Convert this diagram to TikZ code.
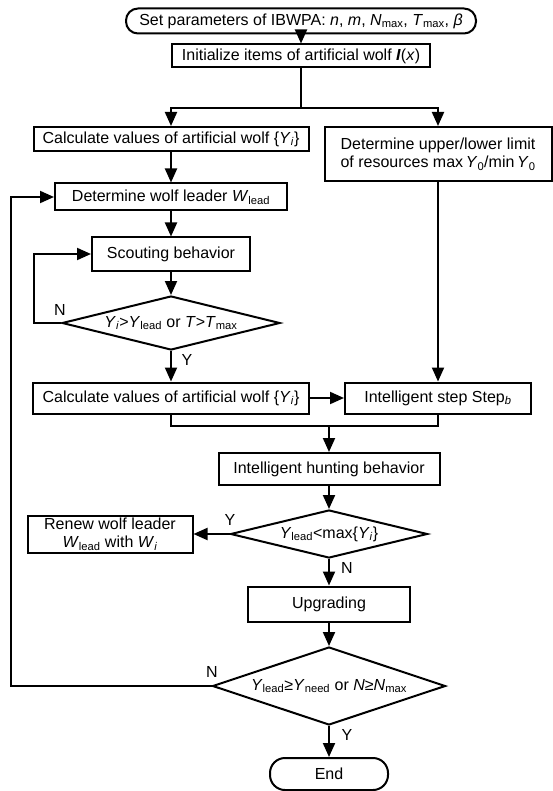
\documentclass[tikz,border=0pt]{standalone}
\usepackage{fontspec}
\setmainfont{Liberation Sans}
\usetikzlibrary{
    arrows.meta,
    shapes.geometric
}
\tikzset{
  every path/.style={
    black,
    line width=2pt
  },
  every node/.style={
    font=\fontsize{16}{18}\selectfont,
    inner sep=0pt
  },
  box/.style={draw, rectangle, align=center},
  term/.style={draw, rectangle, rounded corners=12pt},
  cond/.style={draw, diamond, aspect=4}
}

\begin{document}
\begin{tikzpicture}[x=1pt,y=-1pt,>={Triangle[length=14pt,width=12pt]}]

    \useasboundingbox (0,0) rectangle (552,791);

    % 開始と初期化
    \node[term, minimum width=350pt, minimum height=25pt] (start) at (301,21)
        {Set parameters of IBWPA: \textit{n}, \textit{m}, \textit{N}\textsubscript{max}, \textit{T}\textsubscript{max}, \textit{β}};
    \node[box, minimum width=258pt, minimum height=23pt] (init) at (301,56)
        {Initialize items of artificial wolf \textbf{\textit{I}}(\textit{x})};

    % 左右の列
    \node[box, minimum width=275pt, minimum height=24pt] (calc1) at (171,139)
        {Calculate values of artificial wolf \{\textit{Y}\textsubscript{\textit{i}}\}};
    \node[box, minimum width=227pt, minimum height=54pt] (limit) at (438,154)
        {Determine upper/lower limit\\of resources max\,\textit{Y}\textsubscript{0}/min\,\textit{Y}\textsubscript{0}};
    \node[box, minimum width=232pt, minimum height=27pt] (leader) at (171,197)
        {Determine wolf leader \textit{W}\textsubscript{lead}};
    \node[box, minimum width=158pt, minimum height=33pt] (scout) at (171,254)
        {Scouting behavior};
    \node[cond, minimum width=218pt, minimum height=54pt] (dec1) at (171,323)
        {\textit{Y}\textsubscript{\textit{i}}>\textit{Y}\textsubscript{lead} or \textit{T}>\textit{T}\textsubscript{max}};
    \node[box, minimum width=276pt, minimum height=31pt] (calc2) at (171,398)
        {Calculate values of artificial wolf \{\textit{Y}\textsubscript{\textit{i}}\}};
    \node[box, minimum width=186pt, minimum height=31pt] (step) at (438,398)
        {Intelligent step Step\textsubscript{\textit{b}}};

    % 狩り
    \node[box, minimum width=221pt, minimum height=32pt] (hunt) at (329,469)
        {Intelligent hunting behavior};
    \node[cond, minimum width=197pt, minimum height=48pt] (dec2) at (329,534)
        {\textit{Y}\textsubscript{lead}<max\{\textit{Y}\textsubscript{\textit{i}}\}};
    \node[box, minimum width=165pt, minimum height=37pt] (renew) at (110,534)
        {Renew wolf leader\\\textit{W}\textsubscript{lead} with \textit{W}\textsubscript{\textit{i}}};
    \node[box, minimum width=162pt, minimum height=35pt] (upg) at (329,604)
        {Upgrading};
    \node[cond, minimum width=233pt, minimum height=78pt] (dec3) at (329,686)
        {\textit{Y}\textsubscript{lead}≥\textit{Y}\textsubscript{need} or \textit{N}≥\textit{N}\textsubscript{max}};
    \node[term, minimum width=118pt, minimum height=32pt, rounded corners=15pt] (end) at (329,774)
        {End};

    % 分岐のラベル
    \node (n1) at (60,310) {N};
    \node (y1) at (187,360) {Y};
    \node (y2) at (230,520) {Y};
    \node (n2) at (347,568) {N};
    \node (n3) at (212,672) {N};
    \node (y3) at (347,735) {Y};

    % 矢印
    \coordinate (split) at (301,108);
    \coordinate (merge) at (329,425);
    \draw[->] (start) -- (init);
    \draw (init) -- (split);
    \draw[->] (split) -| (calc1);
    \draw[->] (split) -| (limit);
    \draw[->] (calc1) -- (leader);
    \draw[->] (leader) -- (scout);
    \draw[->] (scout) -- (dec1);
    \draw[->] (dec1.west) -- ++(-27,0) |- (scout.west);
    \draw[->] (dec1) -- (calc2);
    \draw[->] (limit) -- (step);
    \draw[->] (calc2) -- (step);
    \draw (calc2.south) -- ++(0,11) -| (step.south);
    \draw[->] (merge) -- (hunt);
    \draw[->] (hunt) -- (dec2);
    \draw[->] (dec2.west) -- (renew.east);
    \draw[->] (dec2) -- (upg);
    \draw[->] (upg) -- (dec3);
    \draw[->] (dec3.west) -- ++(-201,0) |- (leader.west);
    \draw[->] (dec3) -- (end);

\end{tikzpicture}
\end{document}
